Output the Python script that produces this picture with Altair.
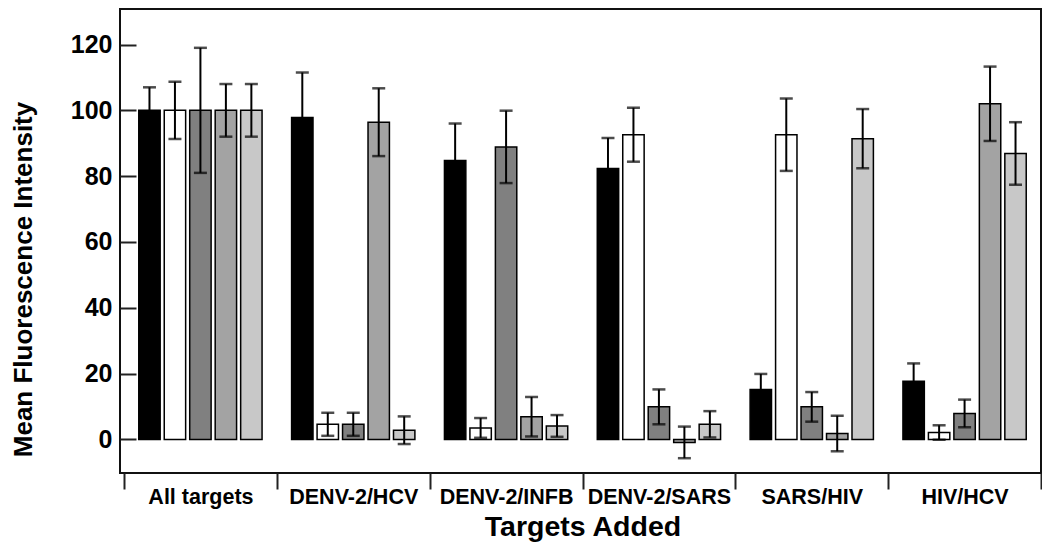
import altair as alt
import pandas as pd

groups = ["All targets", "DENV-2/HCV", "DENV-2/INFB", "DENV-2/SARS", "SARS/HIV", "HIV/HCV"]
series = ["DENV-2", "SARS", "INFB", "HCV", "HIV"]
colors = ["#000000", "#ffffff", "#808080", "#a3a3a3", "#c8c8c8"]

mean_denv2 = [100, 97.8, 84.8, 82.3, 15.2, 17.7]
err_denv2 = [7, 13.7, 11.2, 9.3, 4.7, 5.4]
mean_sars = [100, 4.6, 3.5, 92.6, 92.6, 2.1]
err_sars = [8.7, 3.5, 3.0, 8.2, 11.0, 2.2]
mean_infb = [100, 4.6, 88.9, 9.9, 9.9, 7.9]
err_infb = [19.0, 3.5, 11.0, 5.3, 4.5, 4.2]
mean_hcv = [100, 96.4, 6.9, -0.9, 1.8, 102.0]
err_hcv = [8.0, 10.3, 6.0, 4.8, 5.4, 11.3]
mean_hiv = [100, 2.8, 4.1, 4.6, 91.4, 86.9]
err_hiv = [8.0, 4.2, 3.3, 4.0, 9.0, 9.5]

means = [mean_denv2, mean_sars, mean_infb, mean_hcv, mean_hiv]
errs = [err_denv2, err_sars, err_infb, err_hcv, err_hiv]

rows = []
for s, m_list, e_list in zip(series, means, errs):
    for g, m, e in zip(groups, m_list, e_list):
        rows.append({"group": g, "series": s, "mean": m, "lo": m - e, "hi": m + e})
df = pd.DataFrame(rows)

FONT = "Liberation Sans"
W, H = 921, 464

x_enc = alt.X(
    "group:N", sort=groups,
    scale=alt.Scale(range=[4, W], paddingInner=0, paddingOuter=0),
    axis=alt.Axis(
        title="Targets Added", tickBand="extent", domain=False, grid=False,
        tickSize=16, tickWidth=2, tickColor="#222",
        labelFont=FONT, labelFontSize=21.5, labelFontWeight="bold", labelColor="#000",
        labelPadding=-3, labelAngle=0,
        titleFont=FONT, titleFontSize=28.5, titleFontWeight="bold", titleColor="#000",
        titlePadding=5,
    ),
)
xo_enc = alt.XOffset("series:N", sort=series,
                     scale=alt.Scale(paddingInner=0.16, paddingOuter=0.58))

y_scale = alt.Scale(domain=[-10.2, 130.8], nice=False, zero=False)
y_axis = alt.Axis(
    title="Mean Fluorescence Intensity", values=[0, 20, 40, 60, 80, 100, 120],
    offset=-16, tickSize=16, tickWidth=2, tickColor="#222", domain=False, grid=False,
    labelFont=FONT, labelFontSize=25, labelFontWeight="bold", labelColor="#000",
    labelPadding=8,
    titleFont=FONT, titleFontSize=26, titleFontWeight="bold", titleColor="#000",
    titleAngle=270, titleAlign="center", titleBaseline="alphabetic",
    titleX=-105, titleY=270,
)

color_enc = alt.Color("series:N", sort=series,
                      scale=alt.Scale(domain=series, range=colors), legend=None)

bars = alt.Chart(df).mark_bar(stroke="black", strokeWidth=1.5).encode(
    x=x_enc, xOffset=xo_enc,
    y=alt.Y("mean:Q", scale=y_scale, axis=y_axis),
    y2=alt.datum(0),
    fill=color_enc,
)

rules = alt.Chart(df).mark_rule(color="black", strokeWidth=2).encode(
    x=x_enc, xOffset=xo_enc,
    y=alt.Y("lo:Q", scale=y_scale, axis=y_axis),
    y2="hi:Q",
)

cap_hi = alt.Chart(df).mark_tick(color="black", size=13, thickness=2.5).encode(
    x=x_enc, xOffset=xo_enc,
    y=alt.Y("hi:Q", scale=y_scale, axis=y_axis),
)
cap_lo = alt.Chart(df).mark_tick(color="black", size=13, thickness=2.5).encode(
    x=x_enc, xOffset=xo_enc,
    y=alt.Y("lo:Q", scale=y_scale, axis=y_axis),
)

chart = alt.layer(bars, rules, cap_hi, cap_lo).properties(
    width=W, height=H,
    autosize=alt.AutoSizeParams(type="none"),
    padding={"left": 112, "top": 1, "right": 1, "bottom": 69},
).configure_view(
    stroke="#111", strokeWidth=2
)

chart.save("out.html", embed_options={"renderer": "svg", "actions": False})
